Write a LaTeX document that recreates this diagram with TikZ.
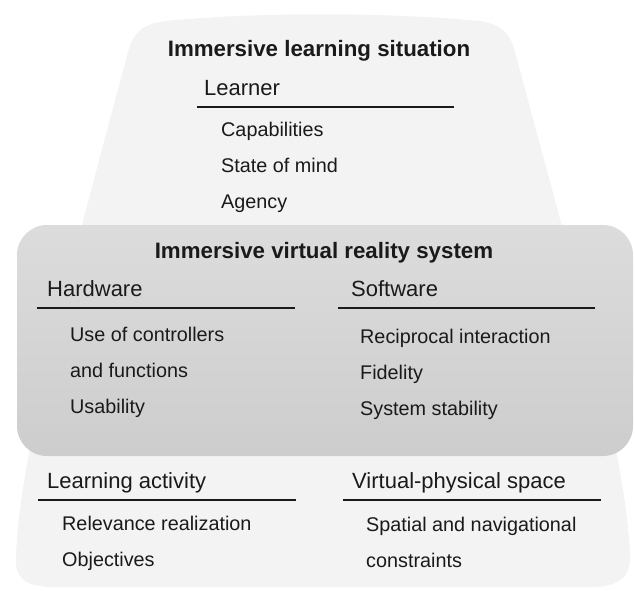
\documentclass[tikz,border=0pt]{standalone}
\usepackage{fontspec}
\setmainfont{Liberation Sans}
\usetikzlibrary{calc}
\definecolor{situation}{HTML}{F3F3F3}
\definecolor{systop}{HTML}{DCDCDC}
\definecolor{sysbot}{HTML}{CDCDCD}
\definecolor{ink}{HTML}{1A1A1A}
\tikzset{
  title/.style={font=\fontsize{22.3}{26}\selectfont\bfseries,text=ink,anchor=base,inner sep=0pt},
  head/.style={font=\fontsize{22}{26}\selectfont,text=ink,anchor=base west,inner sep=0pt},
  item/.style={font=\fontsize{19.8}{24}\selectfont,text=ink,anchor=base west,inner sep=0pt},
  rule/.style={line width=2pt,ink},
}
% heading with its rule: name, x, baseline, text, rule from, rule to
\newcommand{\topic}[6]{%
  \node[head] (#1) at (#2,#3) {#4};%
  \coordinate (#1-a) at (#5,#3+12);%
  \coordinate (#1-b) at (#6,#3+12);%
  \draw[rule] (#1-a)--(#1-b);%
}
% list under a heading: name, x, first baseline, entries
\newcommand{\items}[4]{%
  \foreach \entry [count=\i from 0] in {#4}{%
    \node[item] (#1-\i) at (#2,#3+36*\i) {\entry};}%
}

\begin{document}
\begin{tikzpicture}[x=1pt,y=-1pt]
  \useasboundingbox (0,0) rectangle (635,590);
  \fill[situation] (128,52) .. controls (134,30) and (145,24) .. (165,21)
    .. controls (260,12) and (380,12) .. (480,21)
    .. controls (500,24) and (510,32) .. (515,52)
    .. controls (568,250) and (626,450) .. (630,555)
    .. controls (631,578) and (618,586) .. (595,587) -- (50,587)
    .. controls (25,586) and (14,578) .. (16,555)
    .. controls (20,450) and (75,250) .. (128,52) -- cycle;
  \shade[top color=systop,bottom color=sysbot,rounded corners=30pt] (17,225) rectangle (633,456);

  \node[title] (situation) at (319,56) {Immersive learning situation};
  \topic{learner}{204}{95}{Learner}{197}{454}
  \items{learner}{221}{136}{Capabilities,State of mind,Agency}

  \node[title] (system) at (324,258) {Immersive virtual reality system};
  \topic{hardware}{47}{296}{Hardware}{37}{295}
  \items{hardware}{70}{341}{Use of controllers,and functions,Usability}
  \topic{software}{351}{296}{Software}{338}{595}
  \items{software}{360}{343}{Reciprocal interaction,Fidelity,System stability}

  \topic{activity}{47}{488}{Learning activity}{38}{296}
  \items{activity}{62}{530}{Relevance realization,Objectives}
  \topic{space}{352}{488}{Virtual-physical space}{343}{601}
  \items{space}{366}{531}{Spatial and navigational,constraints}
\end{tikzpicture}
\end{document}
